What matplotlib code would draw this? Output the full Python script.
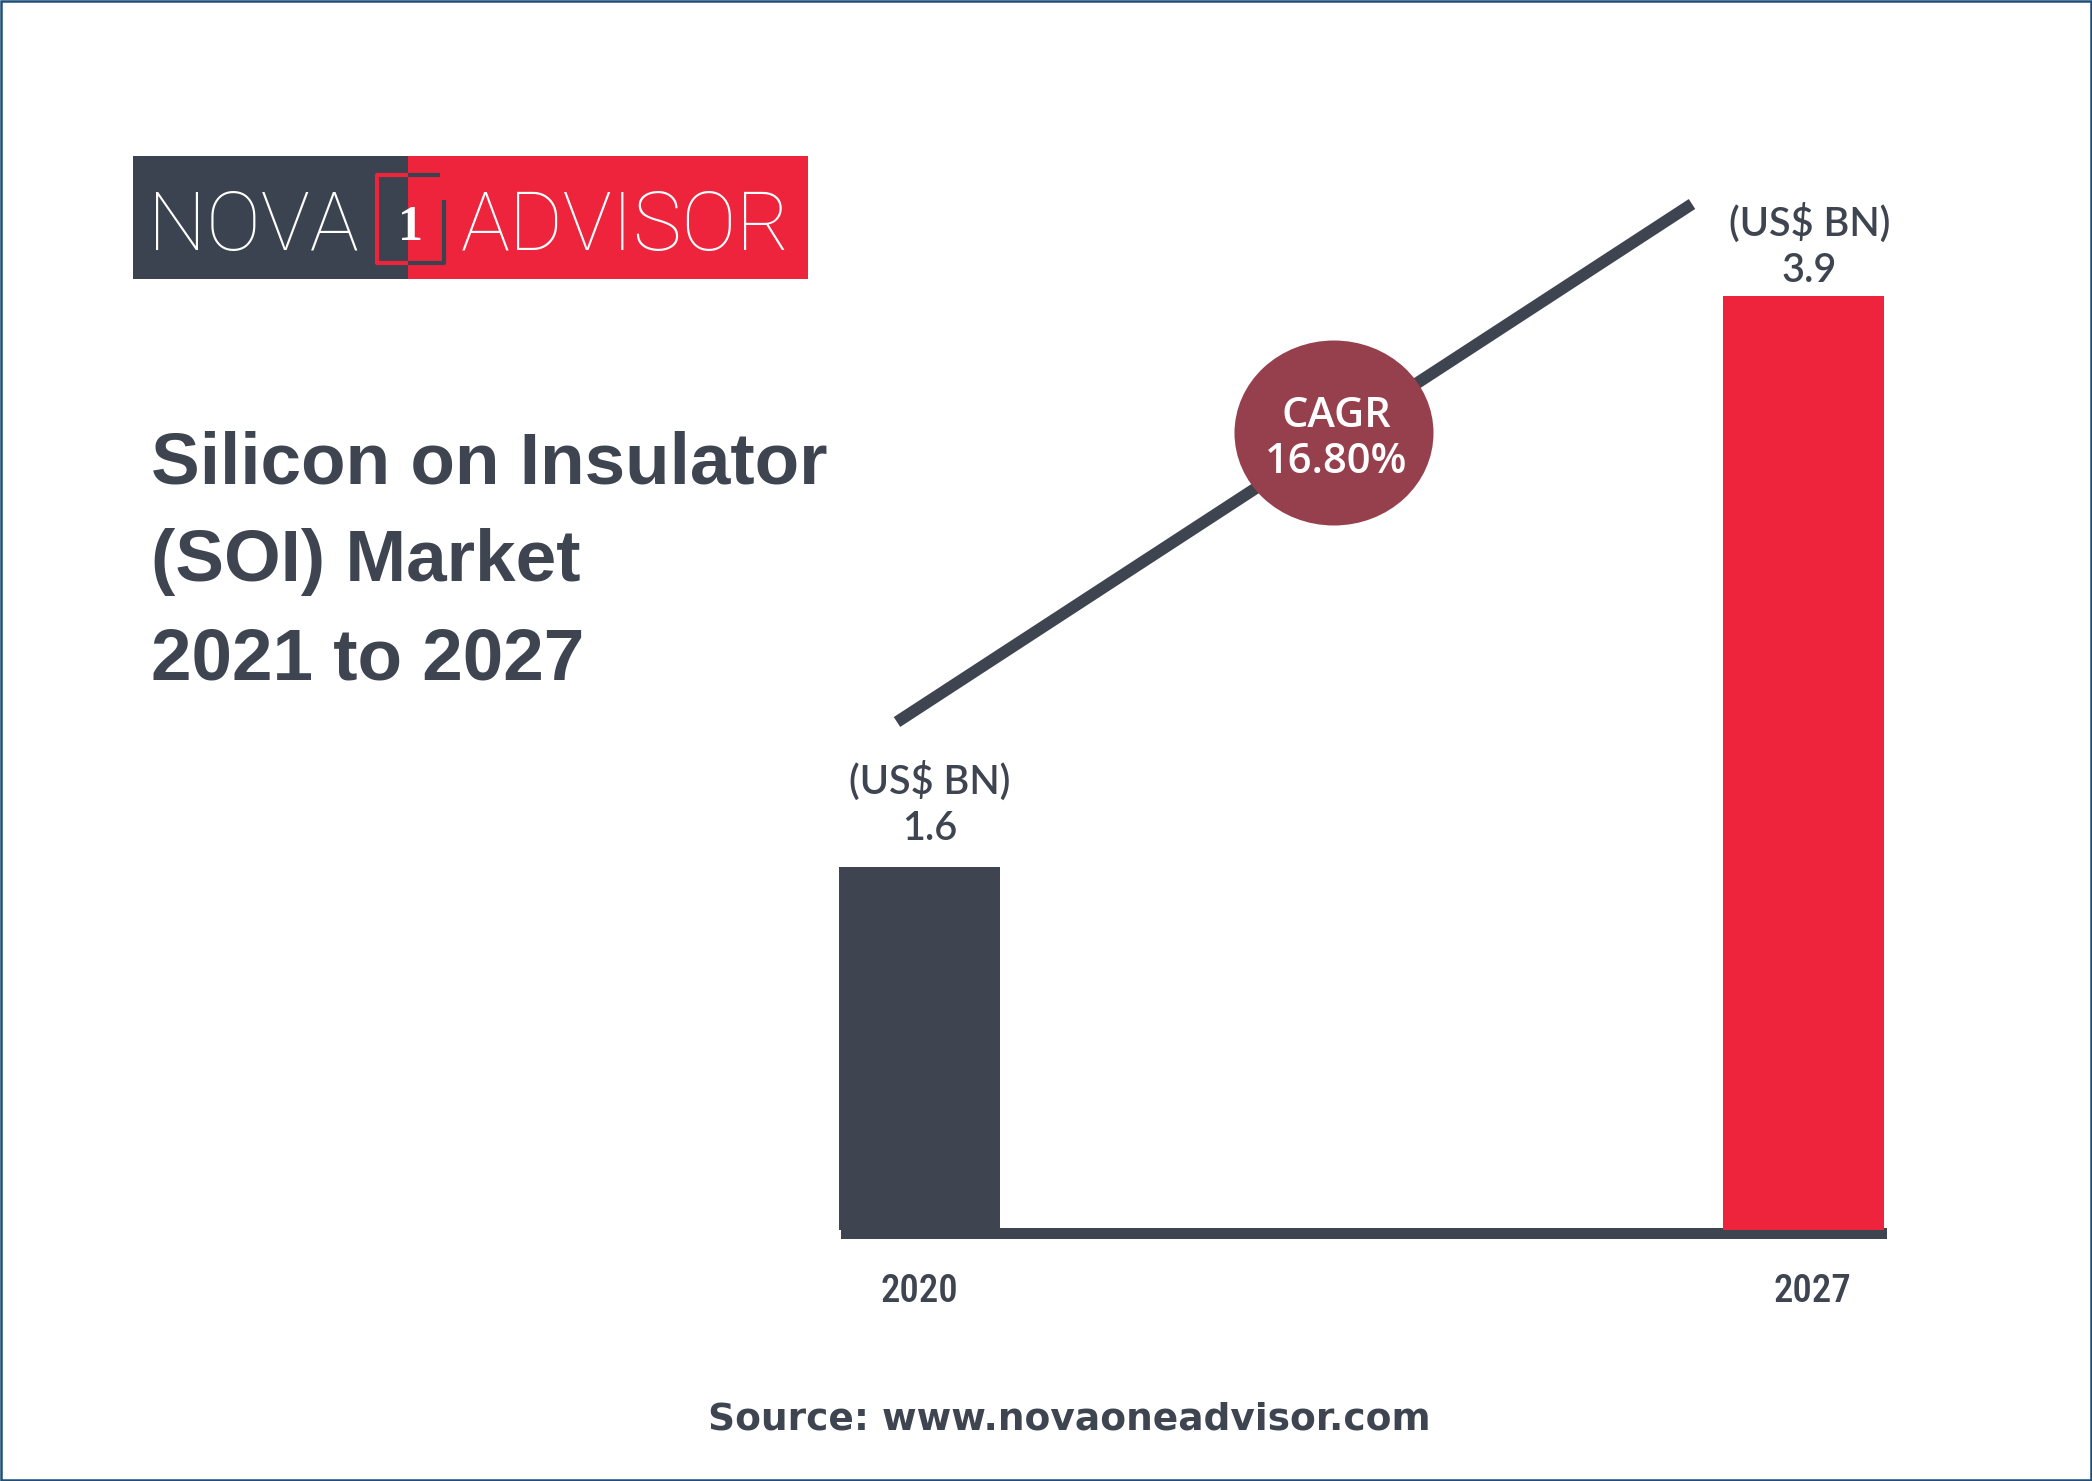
import matplotlib
matplotlib.use('Agg')
import matplotlib.pyplot as plt
from matplotlib.patches import Ellipse, Rectangle

# ── data ──────────────────────────────────────────────────────────────────────

years       = ['2020', '2027']
values      = ['1.6', '3.9']       # printed labels, US$ BN
bar_heights = [1.515, 3.9]         # drawn heights (not to scale with labels)
unit_label  = '(US$ BN)'
title_lines = ['Silicon on Insulator', '(SOI) Market', '2021 to 2027']
cagr_lines  = ['CAGR', '16.80%']
source_text = 'Source: www.novaoneadvisor.com'

# ── style ─────────────────────────────────────────────────────────────────────

W, H = 2092, 1481
DARK = '#3e4450'
RED  = '#ee243d'
bar_colors = [DARK, RED]

fig = plt.figure(figsize=(W / 100, H / 100), dpi=100, facecolor='white')

# overlay in pixel coordinates for everything that is not a data mark
bg = fig.add_axes([0, 0, 1, 1])
bg.set_xlim(0, W)
bg.set_ylim(H, 0)
bg.axis('off')

bg.add_patch(Rectangle((1, 1), W - 2, H - 2, fill=False, ec='#1f4e79', lw=1.8))

# ── logo ──────────────────────────────────────────────────────────────────────

bg.add_patch(Rectangle((133, 156), 275, 123, color='#3b4350', lw=0))
bg.add_patch(Rectangle((408, 156), 400, 123, color=RED, lw=0))
bg.plot([408, 377, 377, 408], [175, 175, 263, 263], color=RED, lw=3, solid_capstyle='butt')
bg.plot([408, 440], [175, 175], color='#3b4350', lw=3, solid_capstyle='butt')
bg.plot([408, 444, 444], [263, 263, 200], color='#3b4350', lw=3, solid_capstyle='butt')
bg.text(148, 250, 'NOVA', color='white', fontsize=59, family='Roboto', weight='light',
        ha='left', va='baseline')
bg.text(410, 240, '1', color='white', fontsize=36, family='Liberation Serif', weight='bold',
        ha='center', va='baseline')
bg.text(461, 250, 'ADVISOR', color='white', fontsize=59, family='Roboto', weight='light',
        ha='left', va='baseline')

# ── title ─────────────────────────────────────────────────────────────────────

for line, y in zip(title_lines, [483, 581, 680]):
    bg.text(151, y, line, color=DARK, fontsize=52.5, family='Liberation Sans', weight='bold',
            ha='left', va='baseline')

# ── trend line + CAGR ─────────────────────────────────────────────────────────

bg.plot([897, 1692], [722, 204], color=DARK, lw=8.5, solid_capstyle='butt', zorder=2)
bg.add_patch(Ellipse((1334, 433), 199, 185, color='#96404d', lw=0, zorder=3))
bg.text(1336, 427, cagr_lines[0], color='white', fontsize=30, family='Open Sans', weight='semibold',
        ha='center', va='baseline', zorder=4)
bg.text(1336, 473, cagr_lines[1], color='white', fontsize=30, family='Open Sans', weight='semibold',
        ha='center', va='baseline', zorder=4)

bg.text(1069, 1430, source_text, color=DARK, fontsize=27, family='DejaVu Sans', weight='bold',
        ha='center', va='baseline')

# ── bars ──────────────────────────────────────────────────────────────────────

ax = fig.add_axes([839 / W, 1 - 1230 / H, (1884 - 839) / W, (1230 - 296) / H])
ax.patch.set_alpha(0)
ax.set_xlim(-0.091, 1.091)
ax.set_ylim(0, 3.9)
for s in ax.spines.values():
    s.set_visible(False)
ax.set_xticks([])
ax.set_yticks([])

positions = range(len(years))
ax.bar(positions, bar_heights, width=0.182, color=bar_colors, zorder=3)

# baseline rule, just under the bars
bg.add_patch(Rectangle((841, 1228), 1046, 11, color=DARK, lw=0, zorder=1))

label_dx = [0, 9]
value_dx = [10, 6]
value_dy = [27, 14]
unit_dy  = [73, 60]
for i, (year, val, h) in enumerate(zip(years, values, bar_heights)):
    ax.annotate(year, (i, 0), xytext=(label_dx[i] * 0.72, -72 * 0.72), textcoords='offset points',
                ha='center', va='baseline', color=DARK, fontsize=28,
                family=['Roboto Condensed', 'Roboto'], weight='medium', annotation_clip=False)
    ax.annotate(val, (i, h), xytext=(value_dx[i] * 0.72, value_dy[i] * 0.72), textcoords='offset points',
                ha='center', va='baseline', color=DARK, fontsize=28.5, family='Lato',
                weight='semibold', annotation_clip=False)
    ax.annotate(unit_label, (i, h), xytext=(value_dx[i] * 0.72, unit_dy[i] * 0.72), textcoords='offset points',
                ha='center', va='baseline', color=DARK, fontsize=28.5, family='Lato',
                weight='semibold', annotation_clip=False)

fig.savefig('out.png', dpi=100)
